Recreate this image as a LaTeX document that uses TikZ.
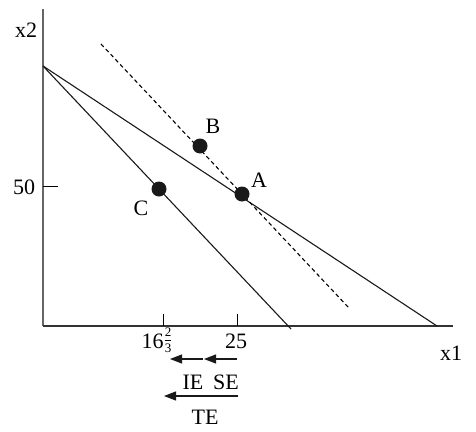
\documentclass[tikz,border=0pt]{standalone}
\usepackage{fontspec}
\usepackage{amsmath}
\setmainfont{Liberation Serif}
\usetikzlibrary{arrows.meta}
\newcommand{\smallfr}[2]{\raisebox{3pt}{$\genfrac{}{}{0.5pt}{}{\hbox{\fontsize{13}{13}\selectfont #1}}{\hbox{\fontsize{13}{13}\selectfont #2}}$}}
\begin{document}
\begin{tikzpicture}[x=1pt,y=-1pt,
  lbl/.style={font=\fontsize{22}{24}\selectfont, inner sep=0pt},
  axis/.style={line width=1.6pt, draw=black!60},
  budget/.style={line width=1.1pt, draw=black!90},
  dot/.style={circle, fill=black!90, minimum size=15pt, inner sep=0pt},
  effarrow/.style={line width=1.2pt, draw=black!90, -{Triangle[length=12pt,width=9pt]}}]
\useasboundingbox (0,0) rectangle (476,431);
% axes
\coordinate (O) at (43,326);
\coordinate (ytop) at (43,9);
\coordinate (xend) at (453,326);
\draw[axis] (ytop) -- (O);
\draw[line width=1.4pt, draw=black!80] (O) -- (xend);
% ticks
\coordinate (t50a) at (43,186); \coordinate (t50b) at (58,186);
\draw[line width=1pt] (t50a) -- (t50b);
\coordinate (t16a) at (163,326); \coordinate (t16b) at (163,314);
\coordinate (t25a) at (237,326); \coordinate (t25b) at (237,314);
\draw[line width=1pt] (t16a) -- (t16b);
\draw[line width=1pt] (t25a) -- (t25b);
% lines
\coordinate (K) at (43,66);
\coordinate (E1) at (437,326);
\coordinate (E2) at (291,329);
\coordinate (D1) at (101,44);
\coordinate (D2) at (349,308);
\draw[budget] (K) -- (E1);
\draw[budget] (K) -- (E2);
\draw[line width=1.1pt, dashed, dash pattern=on 4pt off 3pt] (D1) -- (D2);
% points
\node[dot] (A) at (242,194) {};
\node[dot] (B) at (200,146) {};
\node[dot] (C) at (159,189) {};
\node[lbl] (LA) at (259,180) {A};
\node[lbl] (LB) at (213,126) {B};
\node[lbl] (LC) at (141,208) {C};
% axis labels
\node[lbl] (x2) at (26,30) {x2};
\node[lbl] (x1) at (451,353) {x1};
\node[lbl] (l50) at (24,187) {50};
\node[lbl, anchor=base] (l16) at (157,348) {16\smallfr{2}{3}};
\node[lbl, anchor=base] (l25) at (236,348) {25};
% effect arrows
\coordinate (ie1) at (203,359); \coordinate (ie0) at (170,359);
\coordinate (se1) at (237,359); \coordinate (se0) at (204,359);
\coordinate (te1) at (238,396); \coordinate (te0) at (164,396);
\draw[effarrow] (ie1) -- (ie0);
\draw[effarrow] (se1) -- (se0);
\draw[effarrow] (te1) -- (te0);
\node[lbl] (IE) at (193,382) {IE};
\node[lbl] (SE) at (226,382) {SE};
\node[lbl] (TE) at (205,417) {TE};
\end{tikzpicture}
\end{document}
